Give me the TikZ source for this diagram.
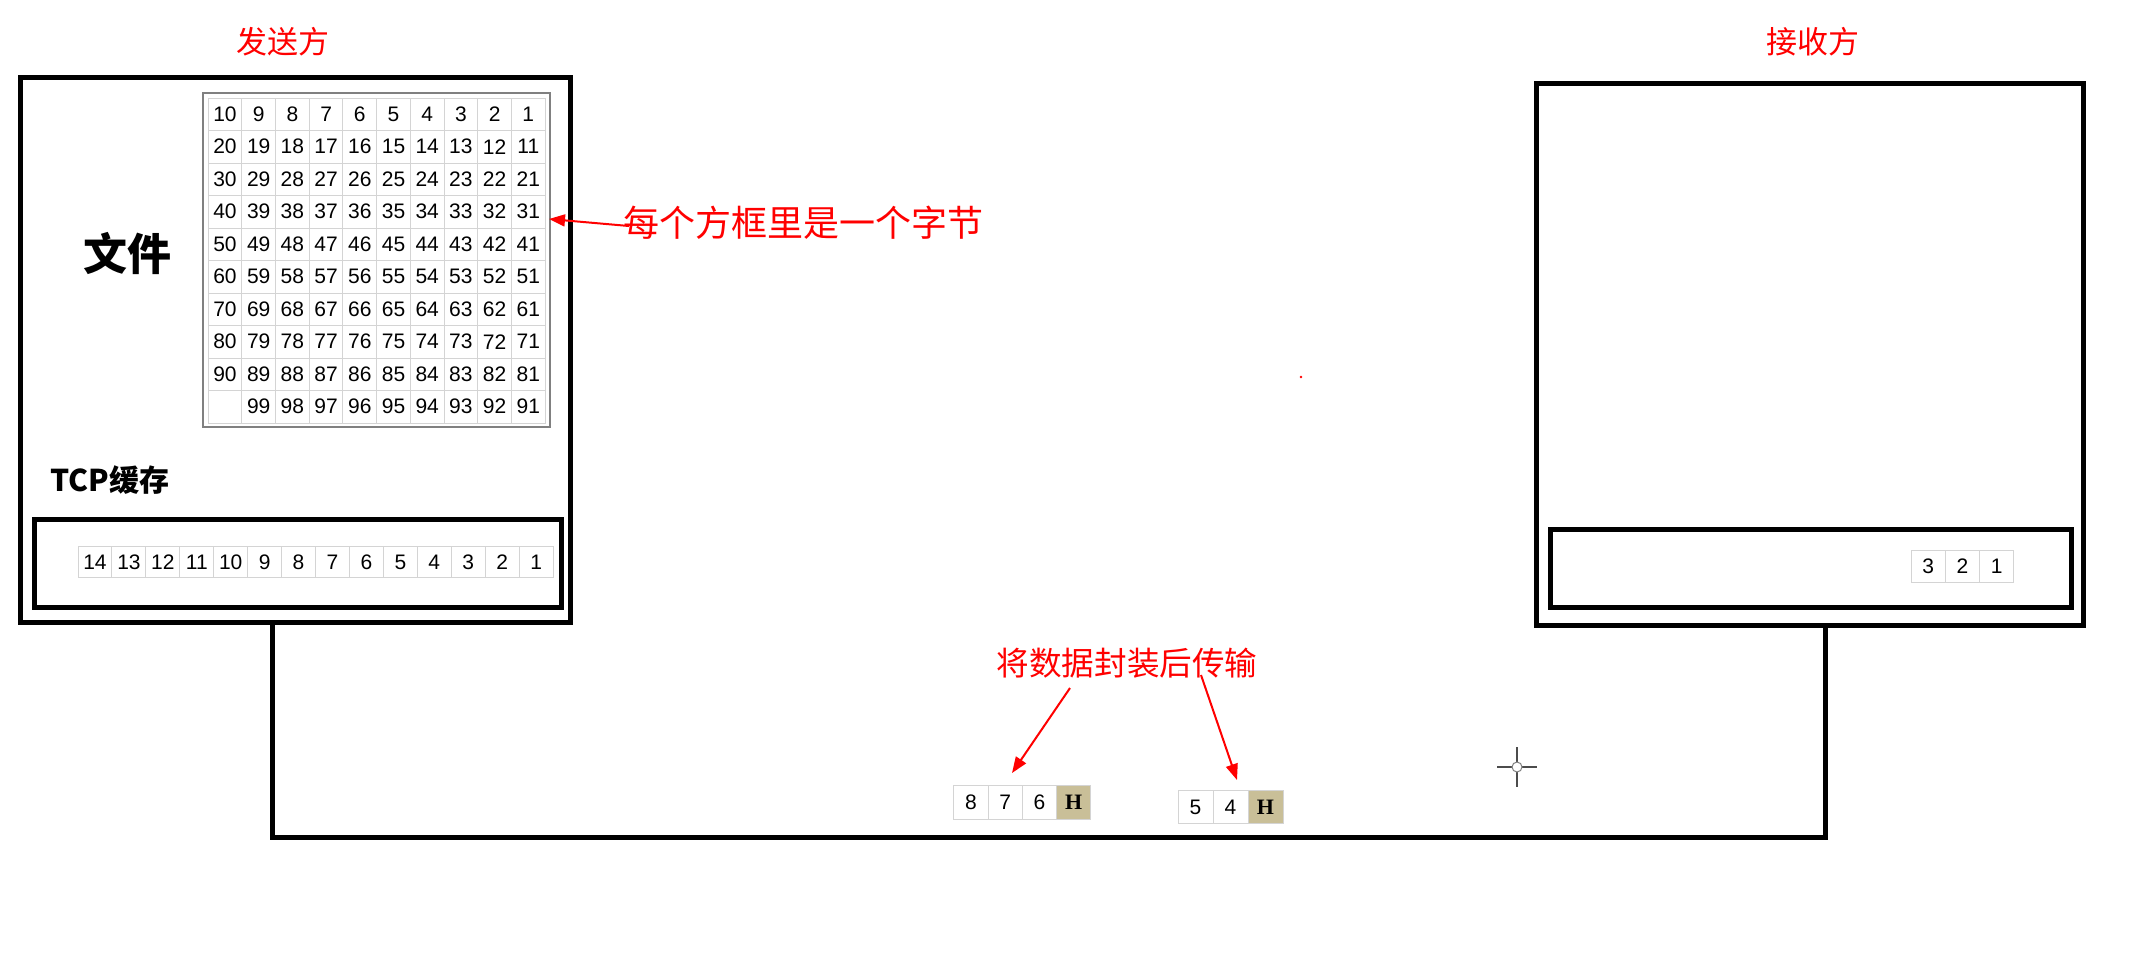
\documentclass[tikz,border=0pt]{standalone}
\usepackage{fontspec}
\setmainfont{Liberation Sans}
\newfontfamily\cjk{Noto Sans CJK SC}
\newfontfamily\hfont{Liberation Serif}
\usetikzlibrary{arrows.meta}
\definecolor{hfill}{RGB}{201,191,152}
\definecolor{cellline}{RGB}{212,212,212}
\begin{document}
\begin{tikzpicture}[x=0.5pt,y=-0.5pt,
  thickbox/.style={draw=black, line width=2.5pt, inner sep=0pt},
  cell/.style={draw=cellline, line width=0.5pt, inner sep=0pt, minimum width=16.85pt, minimum height=16pt, font=\fontsize{10.5}{12}\selectfont},
  hcell/.style={cell, fill=hfill, font=\hfont\bfseries\fontsize{11}{12}\selectfont},
  redlbl/.style={text=red, inner sep=0pt, font=\cjk\fontsize{15.5}{18}\selectfont},
  redarrow/.style={red, line width=1pt, -{Triangle[length=8pt,width=6pt]}},
  link/.style={line width=2.5pt, line join=miter}]
\useasboundingbox (0,0) rectangle (2155,966);
\fill[white] (0,0) rectangle (2155,966);

% titles
\node[redlbl] (sendlbl) at (283,42) {发送方};
\node[redlbl] (recvlbl) at (1813,42) {接收方};

% sender
\node[thickbox, minimum width=275pt, minimum height=272.5pt] (sender) at (295,349.5) {};
\node[thickbox, minimum width=263.5pt, minimum height=44pt] (sbuf) at (297.5,563) {};
\node[inner sep=0pt, font=\cjk\bfseries\fontsize{22}{24}\selectfont] (file) at (127,253) {文件};
\node[inner sep=0pt, font=\cjk\bfseries\fontsize{15}{17}\selectfont] (tcp) at (110,480) {TCP缓存};

% file grid
\foreach \r in {1,...,10} {
  \foreach \c in {1,...,10} {
    \pgfmathtruncatemacro{\v}{10*(\r-1)+11-\c}
    \ifnum\v=100 \def\txt{}\else\edef\txt{\v}\fi
    \node[cell, minimum height=16.25pt] (g-\r-\c) at ({225+33.7*(\c-1)},{114.25+32.5*(\r-1)}) {\txt};
  }
}
\node[draw=gray, line width=1pt, inner sep=0pt, minimum width=173.5pt, minimum height=167pt] (grid) at (376.5,260) {};

% sender buffer cells
\foreach \i in {1,...,14} {
  \pgfmathtruncatemacro{\v}{15-\i}
  \node[cell, minimum width=16.96pt, minimum height=15.5pt] (s-\i) at ({95+33.93*(\i-1)},562) {\v};
}

% receiver
\node[thickbox, minimum width=273.5pt, minimum height=271pt] (recv) at (1809.5,354) {};
\node[thickbox, minimum width=260.5pt, minimum height=39pt] (rbuf) at (1810.5,568) {};
\foreach \v [count=\i] in {3,2,1}
  \node[cell, minimum width=17.15pt] (r-\i) at ({1928.2+34.3*(\i-1)},566) {\v};

% link
\coordinate (c1) at (272,837);
\coordinate (c2) at (1825,837);
\draw[link] (sender.south -| c1) -- (c1) -- (c2) -- (recv.south -| c2);

% packets
\foreach \v [count=\i] in {8,7,6}
  \node[cell, minimum width=17.1pt, minimum height=17pt] (p1-\i) at ({971+34.25*(\i-1)},802) {\v};
\node[hcell, minimum width=17.1pt, minimum height=17pt] (p1-4) at (1073.75,802) {H};
\foreach \v [count=\i] in {5,4}
  \node[cell, minimum width=17.5pt, minimum height=16.5pt] (p2-\i) at ({1195.5+35*(\i-1)},807) {\v};
\node[hcell, minimum width=17.5pt, minimum height=16.5pt] (p2-3) at (1265.5,807) {H};

% annotations
\node[redlbl, font=\cjk\fontsize{18}{20}\selectfont, anchor=west] (lbl1) at (623,223) {每个方框里是一个字节};
\coordinate (t1) at (549,219);
\draw[redarrow] ([xshift=3pt,yshift=-1.5pt]lbl1.west) -- (t1);

\node[redlbl, font=\cjk\fontsize{16.3}{18}\selectfont] (lbl2) at (1127,663) {将数据封装后传输};
\coordinate (a1s) at (1070,688);
\coordinate (a1e) at (1012,773);
\coordinate (a2s) at (1201,675);
\coordinate (a2e) at (1237,780);
\draw[redarrow] (a1s) -- (a1e);
\draw[redarrow] (a2s) -- (a2e);

% cursor mark
\draw[gray!60!black, line width=0.8pt] (1497,767) -- (1537,767) (1517,747) -- (1517,787);
\draw[gray, fill=white, line width=0.5pt] (1517,767) circle[radius=2.5pt];
\fill[red] (1301,377) circle[radius=0.7pt];
\end{tikzpicture}
\end{document}
